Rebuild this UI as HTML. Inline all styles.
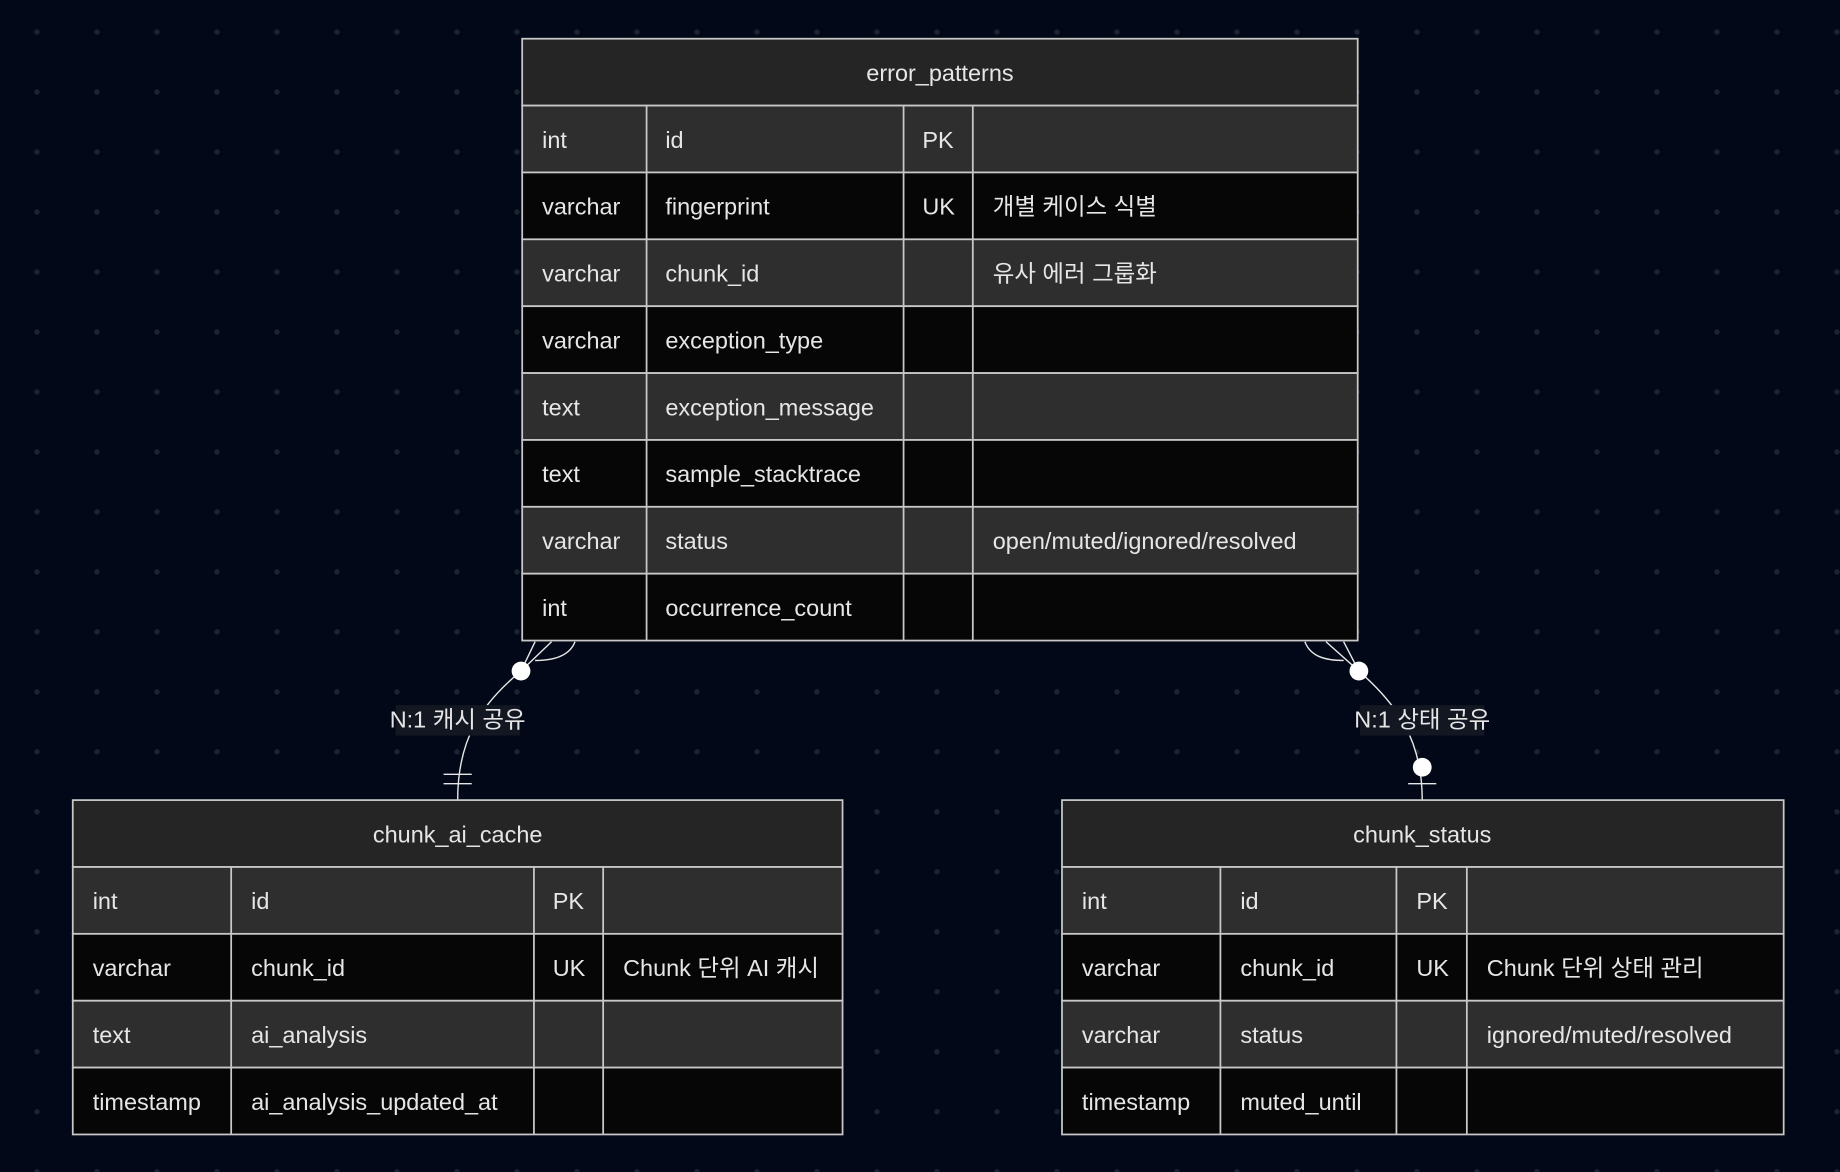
<!DOCTYPE html>
<html><head><meta charset="utf-8"><style>
html,body{margin:0;padding:0;background:#020817;}
svg{display:block}
text{font-family:"Liberation Sans","Noto Sans CJK KR",sans-serif;fill:#e6e6e6;font-size:20px}
</style></head><body>
<svg width="1840" height="1172" viewBox="0 0 1568 999" preserveAspectRatio="none" xmlns="http://www.w3.org/2000/svg">
<defs>
<pattern id="dots" x="31.5" y="27.3" width="51.13" height="51.13" patternUnits="userSpaceOnUse">
<circle cx="0" cy="0" r="2.3" fill="#1c2331"/><circle cx="51.13" cy="0" r="2.3" fill="#1c2331"/><circle cx="0" cy="51.13" r="2.3" fill="#1c2331"/><circle cx="51.13" cy="51.13" r="2.3" fill="#1c2331"/>
</pattern>
</defs>
<rect width="1568" height="999" fill="#020817"/>
<rect width="1568" height="999" fill="url(#dots)"/>

<!-- connectors -->
<g fill="none" stroke="#e6e6e6" stroke-width="1.2">
<path d="M444,572 C410,600 390,630 390,682"/>
<path d="M456,547 L444,572 M470,547 L444,572 M490,547 C485,560 470,563 456,563"/>
<path d="M378,660 L402,660 M378,668 L402,668"/>
<path d="M1158,572 C1190,600 1212,630 1212,682"/>
<path d="M1145,547 L1158,572 M1130,547 L1158,572 M1112,547 C1117,560 1130,563 1145,563"/>
<path d="M1200,668 L1224,668"/>
</g>
<circle cx="444" cy="572" r="8" fill="#fff"/>
<circle cx="1158" cy="572" r="8" fill="#fff"/>
<circle cx="1212" cy="654" r="8" fill="#fff"/>
<rect x="337" y="601" width="106" height="26" fill="#121722"/>
<text x="390" y="620" text-anchor="middle" font-size="16">N:1 캐시 공유</text>
<rect x="1159" y="601" width="106" height="26" fill="#121722"/>
<text x="1212" y="620" text-anchor="middle" font-size="16">N:1 상태 공유</text>

<!-- error_patterns -->
<g stroke="#c8c8c8" stroke-width="1.5">
<rect x="445" y="33" width="712" height="57" fill="#252525"/>
<rect x="445" y="90" width="712" height="57" fill="#2e2e2e"/>
<rect x="445" y="147" width="712" height="57" fill="#060606"/>
<rect x="445" y="204" width="712" height="57" fill="#2e2e2e"/>
<rect x="445" y="261" width="712" height="57" fill="#060606"/>
<rect x="445" y="318" width="712" height="57" fill="#2e2e2e"/>
<rect x="445" y="375" width="712" height="57" fill="#060606"/>
<rect x="445" y="432" width="712" height="57" fill="#2e2e2e"/>
<rect x="445" y="489" width="712" height="57" fill="#060606"/>
<path d="M551,90V546 M770,90V546 M829,90V546"/>
</g>
<text x="801" y="69" text-anchor="middle">error_patterns</text>
<g>
<text x="462" y="126">int</text><text x="567" y="126">id</text><text x="786" y="126">PK</text>
<text x="462" y="183">varchar</text><text x="567" y="183">fingerprint</text><text x="786" y="183">UK</text><text x="846" y="183">개별 케이스 식별</text>
<text x="462" y="240">varchar</text><text x="567" y="240">chunk_id</text><text x="846" y="240">유사 에러 그룹화</text>
<text x="462" y="297">varchar</text><text x="567" y="297">exception_type</text>
<text x="462" y="354">text</text><text x="567" y="354">exception_message</text>
<text x="462" y="411">text</text><text x="567" y="411">sample_stacktrace</text>
<text x="462" y="468">varchar</text><text x="567" y="468">status</text><text x="846" y="468">open/muted/ignored/resolved</text>
<text x="462" y="525">int</text><text x="567" y="525">occurrence_count</text>
</g>

<!-- chunk_ai_cache -->
<g stroke="#c8c8c8" stroke-width="1.5">
<rect x="62" y="682" width="656" height="57" fill="#252525"/>
<rect x="62" y="739" width="656" height="57" fill="#2e2e2e"/>
<rect x="62" y="796" width="656" height="57" fill="#060606"/>
<rect x="62" y="853" width="656" height="57" fill="#2e2e2e"/>
<rect x="62" y="910" width="656" height="57" fill="#060606"/>
<path d="M197,739V967 M455,739V967 M514,739V967"/>
</g>
<text x="390" y="718" text-anchor="middle">chunk_ai_cache</text>
<text x="79" y="775">int</text><text x="214" y="775">id</text><text x="471" y="775">PK</text>
<text x="79" y="832">varchar</text><text x="214" y="832">chunk_id</text><text x="471" y="832">UK</text><text x="531" y="832">Chunk 단위 AI 캐시</text>
<text x="79" y="889">text</text><text x="214" y="889">ai_analysis</text>
<text x="79" y="946">timestamp</text><text x="214" y="946">ai_analysis_updated_at</text>

<!-- chunk_status -->
<g stroke="#c8c8c8" stroke-width="1.5">
<rect x="905" y="682" width="615" height="57" fill="#252525"/>
<rect x="905" y="739" width="615" height="57" fill="#2e2e2e"/>
<rect x="905" y="796" width="615" height="57" fill="#060606"/>
<rect x="905" y="853" width="615" height="57" fill="#2e2e2e"/>
<rect x="905" y="910" width="615" height="57" fill="#060606"/>
<path d="M1040,739V967 M1190,739V967 M1250,739V967"/>
</g>
<text x="1212" y="718" text-anchor="middle">chunk_status</text>
<text x="922" y="775">int</text><text x="1057" y="775">id</text><text x="1207" y="775">PK</text>
<text x="922" y="832">varchar</text><text x="1057" y="832">chunk_id</text><text x="1207" y="832">UK</text><text x="1267" y="832">Chunk 단위 상태 관리</text>
<text x="922" y="889">varchar</text><text x="1057" y="889">status</text><text x="1267" y="889">ignored/muted/resolved</text>
<text x="922" y="946">timestamp</text><text x="1057" y="946">muted_until</text>
</svg>
</body></html>
